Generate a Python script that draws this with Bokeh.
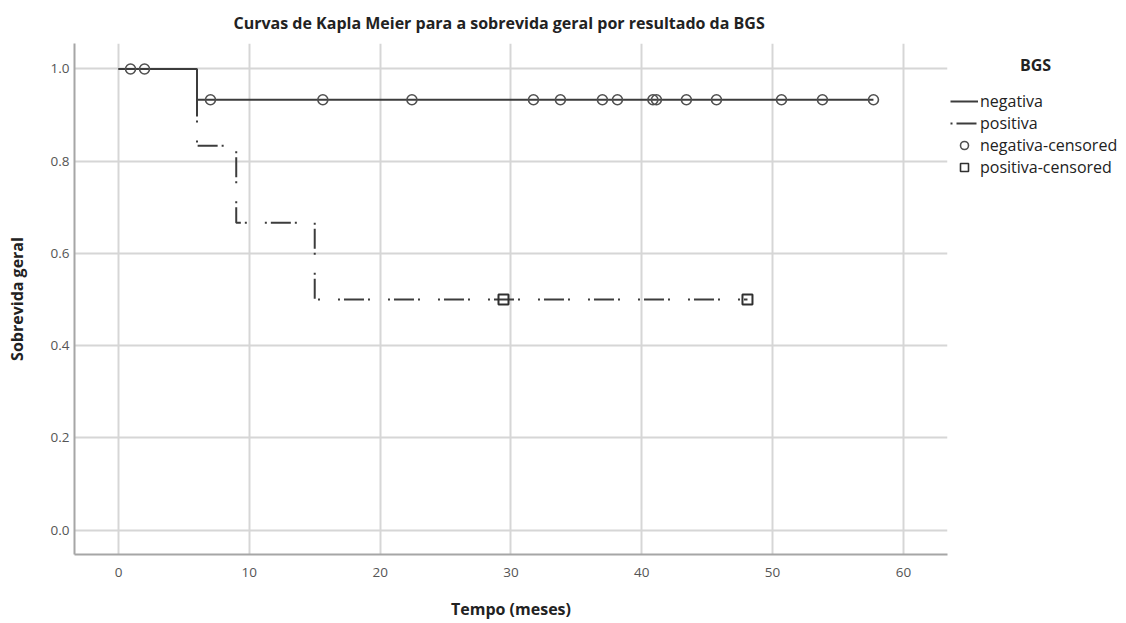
from bokeh.plotting import figure
from bokeh.layouts import row
from bokeh.models import Legend, LegendItem, Label, Range1d, FixedTicker, CustomJSTickFormatter
from bokeh.embed import file_html
from bokeh.resources import INLINE

# ---- data ----
chart_title = "Curvas de Kapla Meier para a sobrevida geral por resultado da BGS"
legend_title = "BGS"
x_label = "Tempo (meses)"
y_label = "Sobrevida geral"
group_names = ["negativa", "positiva"]
censored_names = ["negativa-censored", "positiva-censored"]

neg_time = [0.0, 6.0, 57.71]
neg_surv = [1.0, 0.9333, 0.9333]
pos_time = [0.0, 6.0, 9.0, 15.0, 48.08]
pos_surv = [1.0, 0.8333, 0.6667, 0.5, 0.5]

neg_cens_time = [0.92, 1.99, 7.03, 15.62, 22.43, 31.72, 33.78, 36.99, 38.14,
                 40.85, 41.12, 43.41, 45.71, 50.68, 53.81, 57.71]
neg_cens_surv = [1.0, 1.0, 0.9333, 0.9333, 0.9333, 0.9333, 0.9333, 0.9333,
                 0.9333, 0.9333, 0.9333, 0.9333, 0.9333, 0.9333, 0.9333, 0.9333]
pos_cens_time = [29.43, 48.08]
pos_cens_surv = [0.5, 0.5]

x_ticks = [0, 10, 20, 30, 40, 50, 60]
y_ticks = [0.0, 0.2, 0.4, 0.6, 0.8, 1.0]

FONT = "Open Sans"
LINE = "#3c3c3c"
DASH = "2 4 20 4 2 18"
H = 623
BT, BB = 43, 69

p = figure(width=950, height=H, output_backend="svg", toolbar_location=None,
           x_range=Range1d(-3.363, 63.37), y_range=Range1d(-0.0531, 1.0553),
           min_border_left=74, min_border_right=3, min_border_top=BT,
           min_border_bottom=BB, title=chart_title)

p.outline_line_color = None
p.background_fill_color = "white"
p.border_fill_color = "white"

# title
p.title.text_font = FONT
p.title.text_font_size = "16px"
p.title.text_font_style = "bold"
p.title.text_color = "#222222"
p.title.align = "left"
p.title.offset = 159
p.title.standoff = 19

# axes
for ax in (p.xaxis[0], p.yaxis[0]):
    ax.axis_line_color = "#a6a6a6"
    ax.axis_line_width = 2
    ax.major_tick_line_color = None
    ax.minor_tick_line_color = None
    ax.major_tick_out = 0
    ax.major_tick_in = 0
    ax.minor_tick_out = 0
    ax.minor_tick_in = 0
    ax.major_label_text_font = FONT
    ax.major_label_text_font_size = "13.5px"
    ax.major_label_text_color = "#555555"
    ax.axis_label_text_font = FONT
    ax.axis_label_text_font_size = "16px"
    ax.axis_label_text_font_style = "bold"
    ax.axis_label_text_color = "#222222"

p.xaxis.ticker = FixedTicker(ticks=x_ticks)
p.yaxis.ticker = FixedTicker(ticks=y_ticks)
p.yaxis.formatter = CustomJSTickFormatter(code="return tick.toFixed(1);")
p.xaxis.axis_label = x_label
p.yaxis.axis_label = y_label
p.xaxis.major_label_standoff = 13
p.xaxis.axis_label_standoff = 18
p.yaxis.major_label_standoff = 5
p.yaxis.axis_label_standoff = 20

# grid
p.xgrid.grid_line_color = "#d6d6d6"
p.ygrid.grid_line_color = "#d6d6d6"
p.xgrid.grid_line_width = 2
p.ygrid.grid_line_width = 2

# curves
p.step(pos_time, pos_surv, mode="after", line_color=LINE, line_width=2, line_dash=DASH)
p.step(neg_time, neg_surv, mode="after", line_color=LINE, line_width=2)
p.scatter(neg_cens_time, neg_cens_surv, marker="circle", size=10,
          line_color="#505050", line_width=1.6, fill_alpha=0)
p.scatter(pos_cens_time, pos_cens_surv, marker="square", size=10,
          line_color="#303030", line_width=2, fill_alpha=0)

# ---- legend panel (separate figure so nothing is clipped) ----
# its y-range lies above the data so the key renderers only draw their legend icons
lg = figure(width=176, height=H, output_backend="svg", toolbar_location=None,
            x_range=Range1d(0, 1), y_range=Range1d(2, 3),
            x_axis_location=None, y_axis_location=None,
            min_border_left=0, min_border_right=0, min_border_top=BT,
            min_border_bottom=BB)
lg.outline_line_color = None
lg.grid.visible = False

k_neg = lg.step(neg_time, neg_surv, mode="after", line_color=LINE, line_width=2)
k_pos = lg.step(pos_time, pos_surv, mode="after", line_color=LINE, line_width=2,
                line_dash=DASH)
k_neg_c = lg.scatter(neg_cens_time, neg_cens_surv, marker="circle",
                     line_color="#505050", line_width=1.6, fill_alpha=0)
k_pos_c = lg.scatter(pos_cens_time, pos_cens_surv, marker="square",
                     line_color="#303030", line_width=1.6, fill_alpha=0)

legend = Legend(items=[
    LegendItem(label=group_names[0], renderers=[k_neg]),
    LegendItem(label=group_names[1], renderers=[k_pos]),
    LegendItem(label=censored_names[0], renderers=[k_neg_c]),
    LegendItem(label=censored_names[1], renderers=[k_pos_c]),
], location=(0, 376))
legend.border_line_color = None
legend.background_fill_alpha = 0
legend.padding = 2
legend.margin = 0
legend.spacing = 0
legend.glyph_width = 28
legend.glyph_height = 20
legend.label_height = 20
legend.label_standoff = 2
legend.label_text_font = FONT
legend.label_text_font_size = "16px"
legend.label_text_color = "#222222"
lg.add_layout(legend, "center")

lg.add_layout(Label(x=0.483, y=2.957, text=legend_title, text_align="center",
                    text_baseline="middle", text_font=FONT, text_font_size="16px",
                    text_font_style="bold", text_color="#222222"))

layout = row(p, lg)
open("out.html", "w").write(file_html(layout, INLINE))
